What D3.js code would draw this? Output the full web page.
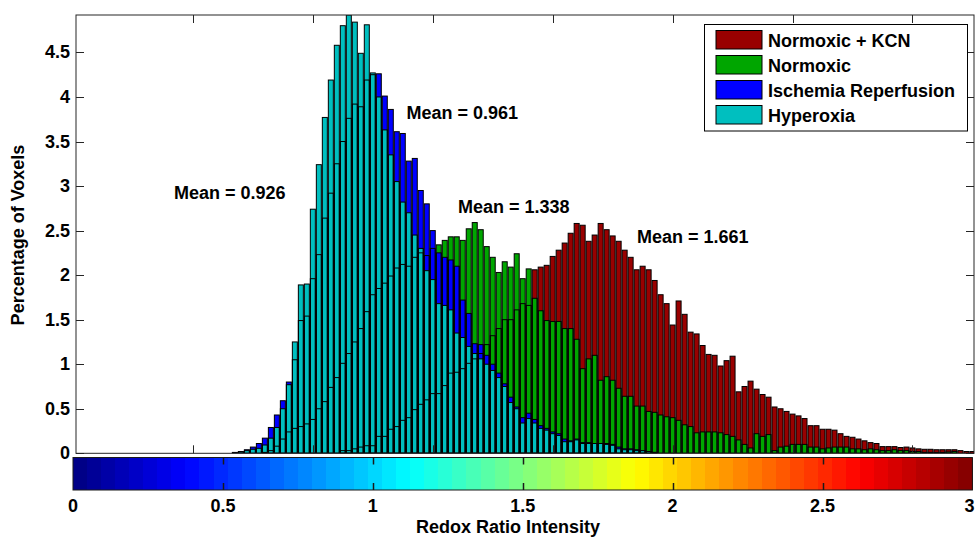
<!DOCTYPE html>
<html>
<head>
<meta charset="utf-8">
<script src="https://cdn.jsdelivr.net/npm/d3@7/dist/d3.min.js"></script>
<style>
  html, body { margin: 0; padding: 0; background: #fff; }
  svg { display: block; font-family: "Liberation Sans", Arial, Helvetica, sans-serif; }
</style>
</head>
<body>
<svg id="chart" width="975" height="537"></svg>
<script>
// Histogram bins: centres at 0.02 * k for k = firstBin .. 150 (redox ratio 0.5 .. 3.0)
const firstBin = 25;
const binWidth = 0.02;

const seriesNames = ["Normoxic + KCN", "Normoxic", "Ischemia Reperfusion", "Hyperoxia"];
const seriesColors = ["#990000", "#00a600", "#0000ff", "#00bfbf"];

// Percentage of voxels per bin, k = 25 .. 150
const normoxicKCN = [
  0, 0, 0, 0, 0, 0, 0, 0, 0, 0,
  0, 0, 0, 0, 0, 0, 0, 0, 0, 0,
  0.03, 0.03, 0.05, 0.07, 0.085, 0.085, 0.19, 0.19, 0.27, 0.30,
  0.37, 0.40, 0.49, 0.55, 0.60, 0.67, 0.67, 0.76, 0.90, 0.91,
  0.95, 1.01, 1.06, 1.12, 1.22, 1.32, 1.40, 1.50, 1.50, 1.61,
  1.68, 1.66, 2.06, 2.09, 2.11, 2.21, 2.28, 2.36, 2.47, 2.58,
  2.56, 2.38, 2.45, 2.58, 2.51, 2.44, 2.38, 2.28, 2.20, 2.06,
  2.10, 2.06, 1.94, 1.78, 1.68, 1.44, 1.71, 1.56, 1.36, 1.34,
  1.21, 1.11, 1.10, 0.98, 1.04, 1.09, 0.69, 0.75, 0.81, 0.72,
  0.66, 0.63, 0.52, 0.50, 0.47, 0.44, 0.42, 0.39, 0.31, 0.31,
  0.27, 0.27, 0.26, 0.22, 0.19, 0.18, 0.16, 0.14, 0.12, 0.11,
  0.075, 0.075, 0.075, 0.065, 0.07, 0.06, 0.05, 0.045, 0.045, 0.04,
  0.04, 0.04, 0.04, 0.03, 0.02, 0.02
];
const normoxic = [
  0, 0, 0, 0, 0, 0, 0, 0.01, 0.03, 0.08,
  0.16, 0.24, 0.28, 0.30, 0.33, 0.38, 0.50, 0.58, 0.74, 0.85,
  1.01, 1.12, 1.25, 1.40, 1.59, 1.78, 1.85, 1.91, 1.99, 2.08,
  2.12, 2.10, 2.20, 2.25, 2.22, 2.30, 2.34, 2.39, 2.43, 2.43,
  2.39, 2.52, 2.59, 2.51, 2.32, 2.20, 2.03, 2.15, 2.09, 2.24,
  1.96, 2.07, 1.74, 1.60, 1.49, 1.48, 1.48, 1.40, 1.40, 1.28,
  0.95, 1.06, 1.10, 0.82, 0.86, 0.82, 0.73, 0.64, 0.64, 0.53,
  0.53, 0.47, 0.46, 0.43, 0.41, 0.40, 0.37, 0.32, 0.30, 0.23,
  0.24, 0.24, 0.24, 0.23, 0.21, 0.19, 0.15, 0.10, 0.06, 0.22,
  0.19, 0.21, 0.03, 0.07, 0.08, 0.10, 0.10, 0.10, 0.07, 0.07,
  0.05, 0.06, 0.07, 0.07, 0.07, 0.05, 0.05, 0.04, 0.05, 0.04,
  0.03, 0.03, 0.04, 0.03, 0.03, 0.02, 0.02, 0.01, 0.01, 0.01,
  0.01, 0.015, 0.02, 0, 0, 0
];
const ischemiaReperfusion = [
  0, 0, 0.01, 0.02, 0.04, 0.07, 0.11, 0.17, 0.29, 0.43,
  0.59, 0.80, 1.05, 1.49, 1.54, 1.96, 2.23, 2.64, 2.92, 3.25,
  3.50, 3.76, 3.92, 3.89, 4.19, 4.25, 4.26, 4.01, 3.86, 3.61,
  3.59, 3.28, 3.31, 2.95, 2.80, 2.50, 2.25, 2.20, 2.17, 2.10,
  1.72, 1.57, 1.23, 1.22, 1.10, 1.00, 0.90, 0.78, 0.63, 0.52,
  0.40, 0.45, 0.38, 0.31, 0.28, 0.24, 0.22, 0.16, 0.14, 0.16,
  0.12, 0.12, 0.11, 0.11, 0.11, 0.10, 0.07, 0.05, 0.05, 0.04,
  0.03, 0.02, 0.01, 0, 0, 0, 0, 0, 0, 0,
  0, 0, 0, 0, 0, 0, 0, 0, 0, 0,
  0, 0, 0, 0, 0, 0, 0, 0, 0, 0,
  0, 0, 0, 0, 0, 0, 0, 0, 0, 0,
  0, 0, 0, 0, 0, 0, 0, 0, 0, 0,
  0, 0, 0, 0, 0, 0
];
const hyperoxia = [
  0, 0, 0.005, 0.015, 0.03, 0.045, 0.056, 0.093, 0.17, 0.29,
  0.50, 0.77, 1.25, 1.89, 1.90, 2.74, 3.24, 3.77, 4.19, 4.58,
  4.80, 4.92, 4.84, 4.49, 4.81, 4.27, 4.00, 3.63, 3.35, 3.05,
  2.82, 2.70, 2.45, 2.30, 2.05, 1.95, 1.68, 1.66, 1.61, 1.35,
  1.30, 1.20, 1.12, 1.06, 1.00, 0.93, 0.85, 0.75, 0.57, 0.50,
  0.34, 0.39, 0.34, 0.28, 0.26, 0.22, 0.20, 0.13, 0.13, 0.15,
  0.11, 0.11, 0.11, 0.11, 0.10, 0.09, 0.05, 0.04, 0.04, 0.03,
  0.03, 0.02, 0.01, 0, 0, 0, 0, 0, 0, 0,
  0, 0, 0, 0, 0, 0, 0, 0, 0, 0,
  0, 0, 0, 0, 0, 0, 0, 0, 0, 0,
  0, 0, 0, 0, 0, 0, 0, 0, 0, 0,
  0, 0, 0, 0, 0, 0, 0, 0, 0, 0,
  0, 0, 0, 0, 0, 0
];

const meanValues = [1.661, 1.338, 0.961, 0.926];

const yTicks = [0, 0.5, 1, 1.5, 2, 2.5, 3, 3.5, 4, 4.5];
const histXTicks = [0.4, 0.8, 1.2, 1.6, 2.0, 2.4, 2.8];
const colorbarTicks = [0, 0.5, 1, 1.5, 2, 2.5, 3];
const yLimit = [0, 4.92];
const colorLimit = [0, 3];
const colormapSize = 64;

// ---- layout ----
const plot = { left: 76, right: 974, top: 15, bottom: 453.3 };
const cbar = { top: 457.5, bottom: 490 };
const labelFont = "bold 18px 'Liberation Sans', Arial, sans-serif";
const meanLabelPos = [[637, 242.7], [458, 213.3], [406.5, 118.7], [174, 199.3]];

const svg = d3.select("#chart");

const x = d3.scaleLinear().domain(colorLimit).range([73, 972.4]);
const y = d3.scaleLinear().domain(yLimit).range([plot.bottom, plot.top]);

const allSeries = [normoxicKCN, normoxic, ischemiaReperfusion, hyperoxia];
const seriesData = allSeries.map((vals, s) =>
  vals.map((v, i) => ({ s, c: (firstBin + i) * binWidth, v }))
);

svg.append("defs").append("clipPath").attr("id", "plotClip")
  .append("rect")
  .attr("x", plot.left).attr("y", plot.top)
  .attr("width", plot.right - plot.left).attr("height", plot.bottom - plot.top);

const barsG = svg.append("g").attr("clip-path", "url(#plotClip)");

const bw = x(binWidth) - x(0);

// faces, drawn series by series so later series cover earlier ones
seriesData.forEach((rows, s) => {
  barsG.append("g").selectAll("rect").data(rows).join("rect")
    .attr("x", d => x(d.c) - bw / 2 + 0.5)
    .attr("y", d => y(d.v))
    .attr("width", bw - 1)
    .attr("height", d => y(0) - y(d.v))
    .attr("fill", seriesColors[s]);
});
// outlines of every bar sit on top of all faces
seriesData.forEach((rows) => {
  barsG.append("g").selectAll("rect").data(rows).join("rect")
    .attr("x", d => x(d.c) - bw / 2 + 0.5)
    .attr("y", d => y(d.v))
    .attr("width", bw - 1)
    .attr("height", d => y(0) - y(d.v))
    .attr("fill", "none")
    .attr("stroke", "#000")
    .attr("stroke-width", 1);
});

// axes box
const axisColor = "#262626";
svg.append("rect")
  .attr("x", plot.left).attr("y", plot.top)
  .attr("width", plot.right - plot.left).attr("height", plot.bottom - plot.top)
  .attr("fill", "none").attr("stroke", axisColor).attr("stroke-width", 1);

// y ticks (inside on both sides) and labels
const tickG = svg.append("g").attr("stroke", axisColor).attr("stroke-width", 1);
yTicks.forEach(t => {
  const yy = Math.round(y(t)) + 0.5;
  tickG.append("line").attr("x1", plot.left).attr("x2", plot.left + 8).attr("y1", yy).attr("y2", yy);
  tickG.append("line").attr("x1", plot.right - 8).attr("x2", plot.right).attr("y1", yy).attr("y2", yy);
});
histXTicks.forEach(t => {
  const xx = Math.round(x(t)) + 0.5;
  tickG.append("line").attr("x1", xx).attr("x2", xx).attr("y1", plot.top).attr("y2", plot.top + 8);
  tickG.append("line").attr("x1", xx).attr("x2", xx).attr("y1", plot.bottom - 8).attr("y2", plot.bottom);
});

svg.append("g").selectAll("text").data(yTicks).join("text")
  .attr("x", 70).attr("y", d => y(d))
  .attr("text-anchor", "end").attr("dominant-baseline", "central")
  .style("font", labelFont).attr("fill", "#000")
  .text(d => d3.format("")(d));

// mean labels
svg.append("g").selectAll("text").data(meanValues).join("text")
  .attr("x", (d, i) => meanLabelPos[i][0]).attr("y", (d, i) => meanLabelPos[i][1])
  .style("font", labelFont).attr("fill", "#000")
  .text(d => "Mean = " + d3.format(".3f")(d));

// y label
svg.append("text")
  .attr("transform", "translate(24,235) rotate(-90)")
  .attr("text-anchor", "middle")
  .style("font", labelFont).attr("fill", "#000")
  .text("Percentage of Voxels");

// legend
const lg = svg.append("g");
lg.append("rect").attr("x", 704.5).attr("y", 24.5).attr("width", 263).attr("height", 106.5)
  .attr("fill", "#fff").attr("stroke", "#000").attr("stroke-width", 1);
seriesNames.forEach((name, i) => {
  lg.append("rect").attr("x", 716).attr("y", 30.5 + i * 25).attr("width", 46).attr("height", 18.5)
    .attr("fill", seriesColors[i]).attr("stroke", "#000").attr("stroke-width", 1);
  lg.append("text").attr("x", 768).attr("y", 46.7 + i * 25)
    .style("font", labelFont).attr("fill", "#000").text(name);
});

// colorbar (jet colormap)
function jet(t) {
  const f = v => Math.max(0, Math.min(1, v));
  const r = f(1.5 - Math.abs(4 * t - 3));
  const g = f(1.5 - Math.abs(4 * t - 2));
  const b = f(1.5 - Math.abs(4 * t - 1));
  return d3.rgb(r * 255, g * 255, b * 255);
}
const steps = d3.range(colormapSize);
const stepW = (colorLimit[1] - colorLimit[0]) / colormapSize;
svg.append("g").selectAll("rect").data(steps).join("rect")
  .attr("x", d => x(colorLimit[0] + d * stepW))
  .attr("y", cbar.top)
  .attr("width", d => x(colorLimit[0] + (d + 1) * stepW) - x(colorLimit[0] + d * stepW) + 0.6)
  .attr("height", cbar.bottom - cbar.top)
  .attr("fill", d => jet((d + 0.5) / colormapSize))
  .attr("shape-rendering", "crispEdges");
svg.append("rect")
  .attr("x", x(colorLimit[0])).attr("y", cbar.top)
  .attr("width", x(colorLimit[1]) - x(colorLimit[0])).attr("height", cbar.bottom - cbar.top)
  .attr("fill", "none").attr("stroke", "#1a1a1a").attr("stroke-width", 1);

const cbTickG = svg.append("g").attr("stroke", "#1a1a1a").attr("stroke-width", 1.5);
colorbarTicks.slice(1, -1).forEach(t => {
  const xx = Math.round(x(t)) + 0.5;
  cbTickG.append("line").attr("x1", xx).attr("x2", xx).attr("y1", cbar.top).attr("y2", cbar.top + 7);
  cbTickG.append("line").attr("x1", xx).attr("x2", xx).attr("y1", cbar.bottom - 7).attr("y2", cbar.bottom);
});
// the last label sits against the right edge of the page
const lastTick = colorbarTicks.length - 1;
svg.append("g").selectAll("text").data(colorbarTicks).join("text")
  .attr("x", (d, i) => i === lastTick ? 974.5 : x(d)).attr("y", 511.5)
  .attr("text-anchor", (d, i) => i === lastTick ? "end" : "middle")
  .style("font", labelFont).attr("fill", "#000")
  .text(d => d3.format("")(d));

svg.append("text")
  .attr("x", 508).attr("y", 533)
  .attr("text-anchor", "middle")
  .style("font", labelFont).attr("fill", "#000")
  .text("Redox Ratio Intensity");
</script>
</body>
</html>
